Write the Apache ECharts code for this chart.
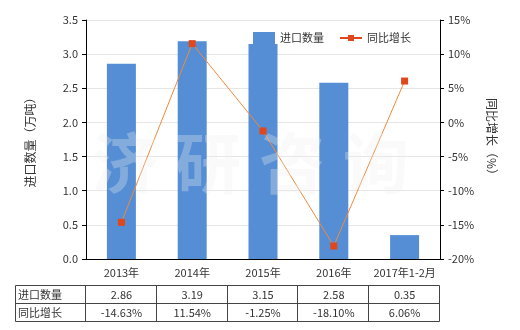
<!DOCTYPE html>
<html>
<head>
<meta charset="utf-8">
<script src="https://cdn.jsdelivr.net/npm/echarts@6/dist/echarts.min.js"></script>
<style>
html, body { margin: 0; padding: 0; background: #fff; }
#main { width: 520px; height: 330px; }
</style>
</head>
<body>
<div id="main"></div>
<script>
var categories = ['2013年', '2014年', '2015年', '2016年', '2017年1-2月'];
var importQty = [2.86, 3.19, 3.15, 2.58, 0.35];
var yoyGrowth = [-14.63, 11.54, -1.25, -18.10, 6.06];
var qtyLabels = ['2.86', '3.19', '3.15', '2.58', '0.35'];
var yoyLabels = ['-14.63%', '11.54%', '-1.25%', '-18.10%', '6.06%'];

var font = '"Noto Sans CJK SC", "Microsoft YaHei", sans-serif';
var gridLeft = 86, gridTop = 20, gridW = 354, gridH = 239;
var tableLeft = 15, tableTop = 285.5, rowH = 18;

var myChart = echarts.init(document.getElementById('main'));

// 底部数据表
var colW = gridW / categories.length;
var tableRight = gridLeft + gridW - 0.5;
var g = [];
var lineStyle = { stroke: '#444', lineWidth: 1 };
for (var r = 0; r <= 2; r++) {
	var yy = tableTop + r * rowH;
	g.push({ type: 'line', shape: { x1: tableLeft + 0.5, y1: yy, x2: tableRight, y2: yy }, style: lineStyle, silent: true });
}
var vx = [tableLeft + 0.5];
for (var c = 0; c <= categories.length; c++) {
	vx.push(Math.round(gridLeft + c * colW) - 0.5);
}
for (var k = 0; k < vx.length; k++) {
	g.push({ type: 'line', shape: { x1: vx[k], y1: tableTop, x2: vx[k], y2: tableTop + 2 * rowH }, style: lineStyle, silent: true });
}
var rows = [['进口数量', qtyLabels], ['同比增长', yoyLabels]];
for (var i = 0; i < rows.length; i++) {
	var cy = tableTop + i * rowH + rowH / 2 + 0.5;
	g.push({ type: 'text', x: tableLeft + 3, y: cy, style: { text: rows[i][0], font: '11px ' + font, fill: '#333', textVerticalAlign: 'middle' }, silent: true });
	for (var j = 0; j < rows[i][1].length; j++) {
		g.push({ type: 'text', x: gridLeft + (j + 0.5) * colW, y: cy, style: { text: rows[i][1][j], font: '11px ' + font, fill: '#333', textAlign: 'center', textVerticalAlign: 'middle' }, silent: true });
	}
}
// 水印
var wm = ['济', '研', '咨', '询'];
var wmX = [125, 208, 292, 376];
for (var w = 0; w < wm.length; w++) {
	g.push({ type: 'text', x: wmX[w], y: 163, z: 100, style: { text: wm[w], font: 'bold 66px ' + font, fill: 'rgba(240,240,240,0.3)', textAlign: 'center', textVerticalAlign: 'middle' }, silent: true });
}

option = {
	animation: false,
	textStyle: { fontFamily: font },
	grid: { left: gridLeft, top: gridTop, width: gridW, height: gridH },
	legend: {
		left: 248,
		top: 27,
		itemWidth: 22,
		itemHeight: 12,
		itemGap: 16,
		textStyle: { fontSize: 11, color: '#333' },
		data: [
			{ name: '进口数量', icon: 'rect' },
			{ name: '同比增长', icon: 'path://M0,5H8V3H14V5H22V7H14V9H8V7H0Z', itemStyle: { color: '#e2471b' } }
		]
	},
	xAxis: {
		type: 'category',
		data: categories,
		axisLine: { lineStyle: { color: '#000' } },
		axisTick: { alignWithLabel: true, length: 4, lineStyle: { color: '#000' } },
		axisLabel: { color: '#333', fontSize: 11, margin: 8, interval: 0 }
	},
	yAxis: [{
		type: 'value',
		min: 0,
		max: 3.5,
		interval: 0.5,
		name: '进口数量（万吨）',
		nameLocation: 'middle',
		nameGap: 50,
		nameTextStyle: { fontSize: 12, color: '#333' },
		axisLine: { show: true, lineStyle: { color: '#000' } },
		axisTick: { show: true, length: 4, lineStyle: { color: '#000' } },
		axisLabel: { color: '#333', fontSize: 11, formatter: function(v) { return v.toFixed(1); } },
		splitLine: { lineStyle: { color: '#e6e6e6' } }
	}, {
		type: 'value',
		min: -20,
		max: 15,
		interval: 5,
		name: '同比增长（%）',
		nameLocation: 'middle',
		nameRotate: -90,
		nameGap: 46,
		nameTextStyle: { fontSize: 12, color: '#333' },
		axisLine: { show: true, lineStyle: { color: '#000' } },
		axisTick: { show: true, length: 4, lineStyle: { color: '#000' } },
		axisLabel: { color: '#333', fontSize: 11, formatter: '{value}%' },
		splitLine: { show: false }
	}],
	series: [{
		name: '进口数量',
		type: 'bar',
		barWidth: 29,
		itemStyle: { color: '#558ed5' },
		data: importQty
	}, {
		name: '同比增长',
		type: 'line',
		yAxisIndex: 1,
		symbol: 'rect',
		symbolSize: 7,
		lineStyle: { color: '#f08a3c', width: 1 },
		itemStyle: { color: '#e2471b' },
		data: yoyGrowth
	}],
	graphic: g
};
myChart.setOption(option);
</script>
</body>
</html>
